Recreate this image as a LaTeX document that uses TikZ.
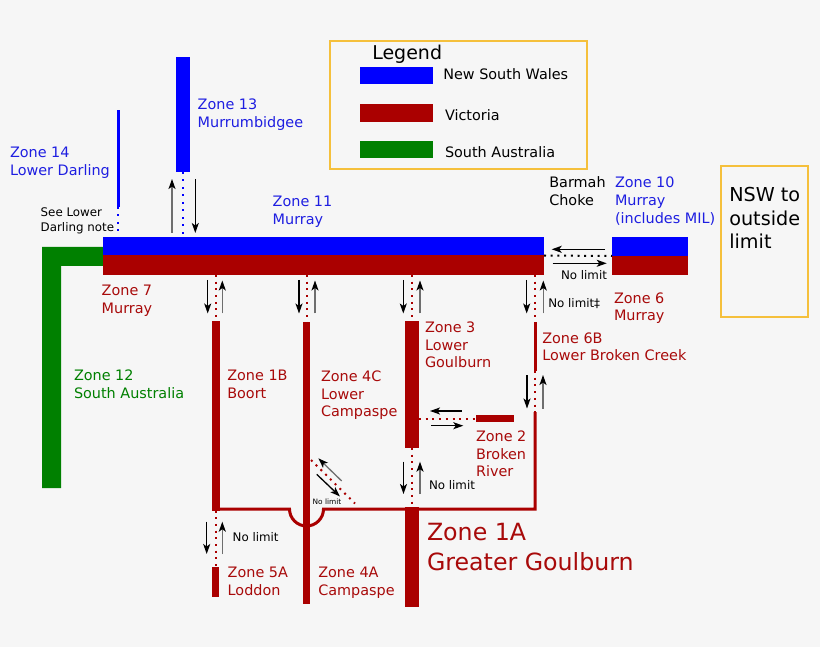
\documentclass[tikz,border=0pt]{standalone}
\usepackage{fontspec}
\setmainfont{DejaVu Sans}
\usetikzlibrary{arrows.meta}
\definecolor{bgc}{RGB}{246,246,246}
\definecolor{nswblue}{RGB}{0,0,255}
\definecolor{vicred}{RGB}{170,0,0}
\definecolor{sagreen}{RGB}{0,128,0}
\definecolor{nswtext}{RGB}{30,30,225}
\definecolor{victext}{RGB}{168,10,10}
\definecolor{satext}{RGB}{0,128,0}
\definecolor{legendline}{RGB}{245,192,60}
\definecolor{shaftgray}{RGB}{110,110,110}
\tikzset{
  zonebar/.style={rectangle, inner sep=0pt, outer sep=0pt, anchor=north west, draw=none},
  lbl/.style={anchor=base west, inner sep=0pt, outer sep=0pt, font=\fontsize{14.4}{17}\selectfont},
  smalllbl/.style={lbl, font=\fontsize{11.85}{14}\selectfont},
  tinylbl/.style={lbl, font=\fontsize{7.4}{9}\selectfont},
  nswlbl/.style={lbl, text=nswtext},
  viclbl/.style={lbl, text=victext},
  salbl/.style={lbl, text=satext},
  biglbl/.style={lbl, text=victext, font=\fontsize{23.7}{28}\selectfont},
  boxlbl/.style={lbl, font=\fontsize{19.2}{23}\selectfont},
  framebox/.style={rectangle, draw=legendline, line width=2pt, inner sep=0pt, outer sep=0pt, anchor=north west},
  reddots/.style={draw=vicred, line width=2pt, dash pattern=on 2pt off 4.7pt},
  bluedots/.style={draw=nswblue, line width=2pt, dash pattern=on 2pt off 5.5pt},
  blackdots/.style={draw=black, line width=2pt, dash pattern=on 2pt off 4.7pt},
  flowarrow/.style={draw=black, line width=1.3pt, -{Stealth[length=10pt,width=7pt,inset=2.5pt]}},
  flowarrowg/.style={draw=shaftgray, line width=1.3pt, -{Stealth[black,length=10pt,width=7pt,inset=2.5pt]}},
}
\begin{document}
\begin{tikzpicture}[x=1pt,y=-1pt]
\fill[bgc] (0,0) rectangle (820,647);
\useasboundingbox (0,0) rectangle (820,647);

% legend
\node[framebox, minimum width=256.7pt, minimum height=128pt] (legend) at (330,41) {};
\node[lbl, font=\fontsize{19}{22}\selectfont] (legtitle) at (372.3,59.3) {Legend};
\node[zonebar, fill=nswblue, minimum width=73.3pt, minimum height=17.3pt] (legnsw) at (360,66.7) {};
\node[zonebar, fill=vicred, minimum width=73.3pt, minimum height=17.3pt] (legvic) at (360,104.3) {};
\node[zonebar, fill=sagreen, minimum width=73.3pt, minimum height=17.3pt] (legsa) at (360,140.7) {};
\node[lbl] (legnswt) at (443.3,80) {New South Wales};
\node[lbl] (legvict) at (445,120.7) {Victoria};
\node[lbl] (legsat) at (445,157.3) {South Australia};

% NSW to outside limit box
\node[framebox, minimum width=87.3pt, minimum height=151pt] (nswbox) at (721,165.7) {};
\node[boxlbl] (nswboxa) at (729.3,202) {NSW to};
\node[boxlbl] (nswboxb) at (729.3,225.5) {outside};
\node[boxlbl] (nswboxc) at (729.3,249) {limit};

% South Australia L
\fill[sagreen] (42,247) -- (103,247) -- (103,266) -- (61,266) -- (61,488) -- (42,488) -- cycle;

% main Murray bars
\node[zonebar, fill=nswblue, minimum width=441pt, minimum height=18.5pt] (mainN) at (103,237) {};
\node[zonebar, fill=vicred, minimum width=441pt, minimum height=19.5pt] (mainV) at (103,255.5) {};
\node[zonebar, fill=nswblue, minimum width=76pt, minimum height=19pt] (z10N) at (612,237) {};
\node[zonebar, fill=vicred, minimum width=76pt, minimum height=19pt] (z10V) at (612,256) {};

% NSW tributaries
\node[zonebar, fill=nswblue, minimum width=14pt, minimum height=115pt] (z13) at (176,57) {};
\node[zonebar, fill=nswblue, minimum width=2.6pt, minimum height=97pt] (z14) at (117,110) {};

% Victorian zones
\node[zonebar, fill=vicred, minimum width=8pt, minimum height=189.5pt] (z1B) at (212,321) {};
\node[zonebar, fill=vicred, minimum width=7pt, minimum height=282pt] (z4) at (303,322) {};
\node[zonebar, fill=vicred, minimum width=14pt, minimum height=127pt] (z3) at (405,321) {};
\node[zonebar, fill=vicred, minimum width=38pt, minimum height=7pt] (z2) at (476,415) {};
\node[zonebar, fill=vicred, minimum width=3pt, minimum height=49.3pt] (z6Ba) at (533.5,321.7) {};
\node[zonebar, fill=vicred, minimum width=14pt, minimum height=100pt] (z1A) at (405,507) {};
\node[zonebar, fill=vicred, minimum width=7pt, minimum height=30pt] (z5A) at (212,567) {};
\coordinate (z6Bb) at (535,412);
\coordinate (diagA) at (311,460);
\coordinate (diagB) at (355,503.5);

% bottom link line with bump round Campaspe
\draw[vicred, line width=3pt, line join=miter] (216,509) -- (289.5,509)
  arc[start angle=180, end angle=0, radius=17] -- (535,509) -- (z6Bb);

% dotted links
\draw[bluedots] (z13.south) -- (z13.south |- mainN.north);
\draw[bluedots] (z14.south) -- (z14.south |- mainN.north);
\draw[blackdots] (mainV.north east) -- (z10V.north west);
\draw[reddots] (z1B.north |- mainV.south) -- (z1B.north);
\draw[reddots] (z4.north |- mainV.south) -- (z4.north);
\draw[reddots] (z3.north |- mainV.south) -- (z3.north);
\draw[reddots] (z6Ba.north |- mainV.south) -- (z6Ba.north);
\draw[reddots] (z6Ba.south) -- (z6Bb);
\draw[reddots] (z3.east |- z2.west) -- (z2.west);
\draw[reddots] (z3.south) -- (z1A.north);
\draw[reddots] (z5A.north |- 0,510.5) -- (z5A.north);
\draw[reddots] (diagA) -- (diagB);

% flow arrows
\draw[flowarrowg] (172,233) -- (172,179);
\draw[flowarrow] (195.3,179) -- (195.3,233);
\draw[flowarrow] (605,249.3) -- (551.7,249.3);
\draw[flowarrow] (552.7,263.3) -- (606.7,263.3);
\draw[flowarrow] (207.7,280) -- (207.7,313.5);
\draw[flowarrowg] (222.3,313.5) -- (222.3,280.5);
\draw[flowarrow] (299,280) -- (299,313.5);
\draw[flowarrowg] (315,313.5) -- (315,280.5);
\draw[flowarrow] (403.3,280) -- (403.3,313.5);
\draw[flowarrowg] (420,313.5) -- (420,280.5);
\draw[flowarrow] (526.7,280) -- (526.7,313.5);
\draw[flowarrowg] (543.3,313.5) -- (543.3,280.5);
\draw[flowarrow] (527,375) -- (527,408.5);
\draw[flowarrowg] (543,408.5) -- (543,375);
\draw[flowarrow] (461.7,411) -- (430,411);
\draw[flowarrow] (431,425.7) -- (463.3,425.7);
\draw[flowarrow] (403.5,461.7) -- (403.5,494);
\draw[flowarrowg] (420,494) -- (420,461.7);
\draw[flowarrow] (206.7,521.7) -- (206.7,554);
\draw[flowarrowg] (222.3,554) -- (222.3,521.7);
\draw[flowarrowg] (341.7,481) -- (318.3,458.3);
\draw[flowarrow] (316.7,474.3) -- (340,496.5);

% NSW labels
\node[nswlbl] (t14a) at (10,158) {Zone 14};
\node[nswlbl] (t14b) at (10,176) {Lower Darling};
\node[nswlbl] (t13a) at (197.7,110) {Zone 13};
\node[nswlbl] (t13b) at (197.7,127.5) {Murrumbidgee};
\node[nswlbl] (t11a) at (272.7,206.7) {Zone 11};
\node[nswlbl] (t11b) at (272.7,224.3) {Murray};
\node[nswlbl] (t10a) at (615,187.3) {Zone 10};
\node[nswlbl] (t10b) at (615,205.3) {Murray};
\node[nswlbl] (t10c) at (615,223.3) {(includes MIL)};

% black labels
\node[smalllbl] (notea) at (40.7,216.7) {See Lower};
\node[smalllbl] (noteb) at (40.7,231.7) {Darling note};
\node[lbl] (barmaha) at (549.3,187.3) {Barmah};
\node[lbl] (barmahb) at (549.3,205.3) {Choke};
\node[smalllbl] (nl10) at (561,279.3) {No limit};
\node[smalllbl] (nl6B) at (548.3,307.3) {No limit‡};
\node[smalllbl] (nl1A) at (429,489.3) {No limit};
\node[smalllbl] (nl5A) at (232.7,541.7) {No limit};
\node[tinylbl] (nl4C) at (312.7,504) {No limit};

% Victorian labels
\node[viclbl] (t7a) at (101.7,296) {Zone 7};
\node[viclbl] (t7b) at (101.7,313.5) {Murray};
\node[viclbl] (t6a) at (614,303.3) {Zone 6};
\node[viclbl] (t6b) at (614,320.7) {Murray};
\node[viclbl] (t6Ba) at (542.3,343.3) {Zone 6B};
\node[viclbl] (t6Bb) at (542.3,360.8) {Lower Broken Creek};
\node[viclbl] (t1Ba) at (227.3,380.7) {Zone 1B};
\node[viclbl] (t1Bb) at (227.3,398.3) {Boort};
\node[viclbl] (t4Ca) at (321,381.7) {Zone 4C};
\node[viclbl] (t4Cb) at (321,399.3) {Lower};
\node[viclbl] (t4Cc) at (321,416.8) {Campaspe};
\node[viclbl] (t3a) at (425,332.3) {Zone 3};
\node[viclbl] (t3b) at (425,350) {Lower};
\node[viclbl] (t3c) at (425,367.3) {Goulburn};
\node[viclbl] (t2a) at (476,441.7) {Zone 2};
\node[viclbl] (t2b) at (476,459.2) {Broken};
\node[viclbl] (t2c) at (476,476.7) {River};
\node[viclbl] (t5Aa) at (227.7,577.3) {Zone 5A};
\node[viclbl] (t5Ab) at (227.7,595) {Loddon};
\node[viclbl] (t4Aa) at (318.3,577.3) {Zone 4A};
\node[viclbl] (t4Ab) at (318.3,595) {Campaspe};
\node[biglbl] (t1Aa) at (427,540.7) {Zone 1A};
\node[biglbl] (t1Ab) at (427,570) {Greater Goulburn};

% South Australia labels
\node[salbl] (t12a) at (74,381) {Zone 12};
\node[salbl] (t12b) at (74,398.5) {South Australia};
\end{tikzpicture}
\end{document}
